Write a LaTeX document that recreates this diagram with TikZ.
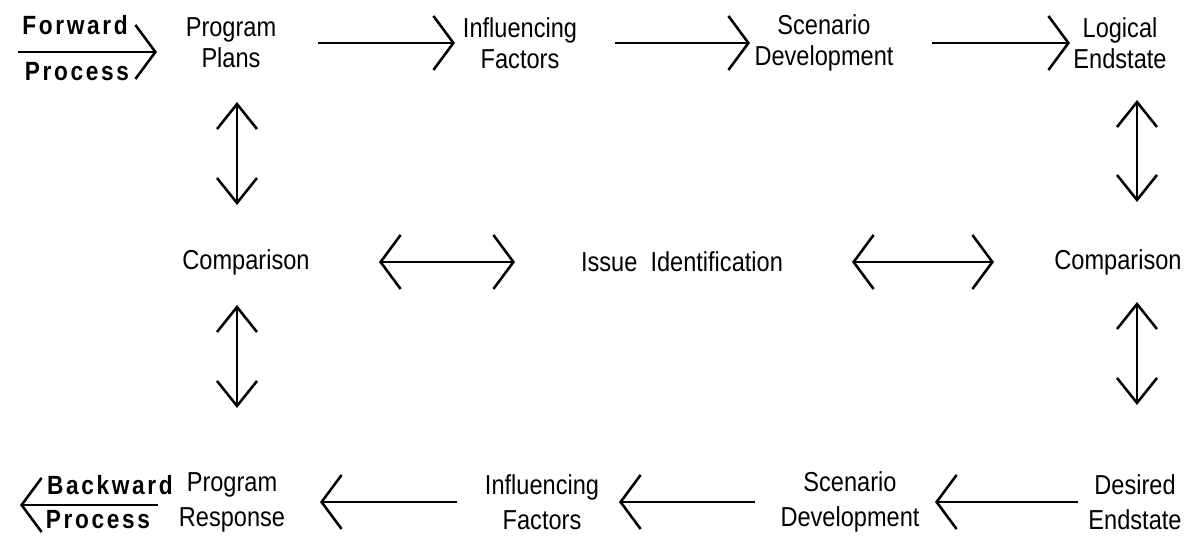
\documentclass[tikz,border=0pt]{standalone}
\usepackage{fontspec}
\setmainfont{Liberation Sans}[FakeStretch=0.86]
\usetikzlibrary{arrows.meta,positioning,calc}

\begin{document}
\begin{tikzpicture}[every node/.style={font=\fontsize{15.6}{17.4}\selectfont, inner sep=0pt, align=center},
  low/.style={font=\fontsize{15.6}{20}\selectfont},
  proc/.style={font=\fontsize{15}{17}\selectfont\bfseries\addfontfeature{LetterSpace=10}},
  harrow/.style={line width=1.45pt, -{Straight Barb[length=0.4cm,width=1.08cm]}},
  hboth/.style={line width=1.45pt, {Straight Barb[length=0.4cm,width=1.08cm]}-{Straight Barb[length=0.4cm,width=1.08cm]}},
  vboth/.style={line width=1.45pt, {Straight Barb[length=0.5cm,width=0.8cm]}-{Straight Barb[length=0.5cm,width=0.8cm]}}]
  \useasboundingbox (0,0) rectangle (23.84,-10.78);

  % Forward process
  \coordinate (fwdtail) at (0.36,-1.04);
  \node[proc] (fwdf) at (1.5,-0.5) {Forward};
  \node[proc] (fwdp) at (1.54,-1.44) {Process};
  \node (plans) at (4.62,-0.86) {Program\\Plans};
  \node (infl) at (10.4,-0.86) {Influencing\\Factors};
  \node (scen) at (16.48,-0.86) {Scenario\\Development};
  \node (logic) at (22.4,-0.86) {Logical\\Endstate};

  % Comparisons
  \coordinate (lcol) at (4.74,0);
  \coordinate (rcol) at (22.74,0);
  \node (cmpl) at (4.92,-5.24) {Comparison};
  \node (issue) at (13.64,-5.24) {Issue\ \ Identification};
  \node (cmpr) at (22.36,-5.24) {Comparison};

  % Backward process
  \coordinate (bwdtip) at (0.4,-10.1);
  \node[proc] (bwdb) at (2.2,-9.7) {Backward};
  \node[proc] (bwdp) at (1.96,-10.4) {Process};
  \node[low] (resp) at (4.64,-10.04) {Program\\Response};
  \node[low] (binfl) at (10.84,-10.04) {Influencing\\Factors};
  \node[low] (bscen) at (17.0,-10.04) {Scenario\\Development};
  \node[low] (desired) at (22.7,-10.04) {Desired\\Endstate};

  % Arrows for the forward row
  \draw[harrow, shorten >=1.48cm] (fwdtail) -- (fwdtail -| plans.center);
  \draw[harrow, shorten <=1.74cm, shorten >=1.3cm] (plans.center) -- (infl.center);
  \draw[harrow, shorten <=1.9cm, shorten >=1.48cm] (infl.center) -- (scen.center);
  \draw[harrow, shorten <=2.16cm, shorten >=1.0cm] (scen.center) -- (logic.center);

  % Arrows for the comparisons
  \draw[vboth, shorten <=1.18cm, shorten >=1.14cm] (plans.center -| lcol) -- (cmpl.center -| lcol);
  \draw[vboth, shorten <=0.86cm, shorten >=1.88cm] (cmpl.center -| lcol) -- (resp.center -| lcol);
  \draw[vboth, shorten <=1.14cm, shorten >=1.2cm] (logic.center -| rcol) -- (cmpr.center -| rcol);
  \draw[vboth, shorten <=0.8cm, shorten >=1.94cm] (cmpr.center -| rcol) -- (desired.center -| rcol);
  \draw[hboth, shorten <=2.66cm, shorten >=3.34cm] (cmpl.center) -- (issue.center);
  \draw[hboth, shorten <=3.4cm, shorten >=2.48cm] (issue.center) -- (cmpr.center);

  % Arrows for the backward row
  \draw[harrow, shorten <=1.14cm, shorten >=1.7cm] (desired.center) -- (bscen.center);
  \draw[harrow, shorten <=1.9cm, shorten >=1.54cm] (bscen.center) -- (binfl.center);
  \draw[harrow, shorten <=1.7cm, shorten >=1.76cm] (binfl.center) -- (resp.center);
  \draw[harrow, shorten <=1.48cm] (bwdtip -| resp.center) -- (bwdtip);
\end{tikzpicture}
\end{document}
